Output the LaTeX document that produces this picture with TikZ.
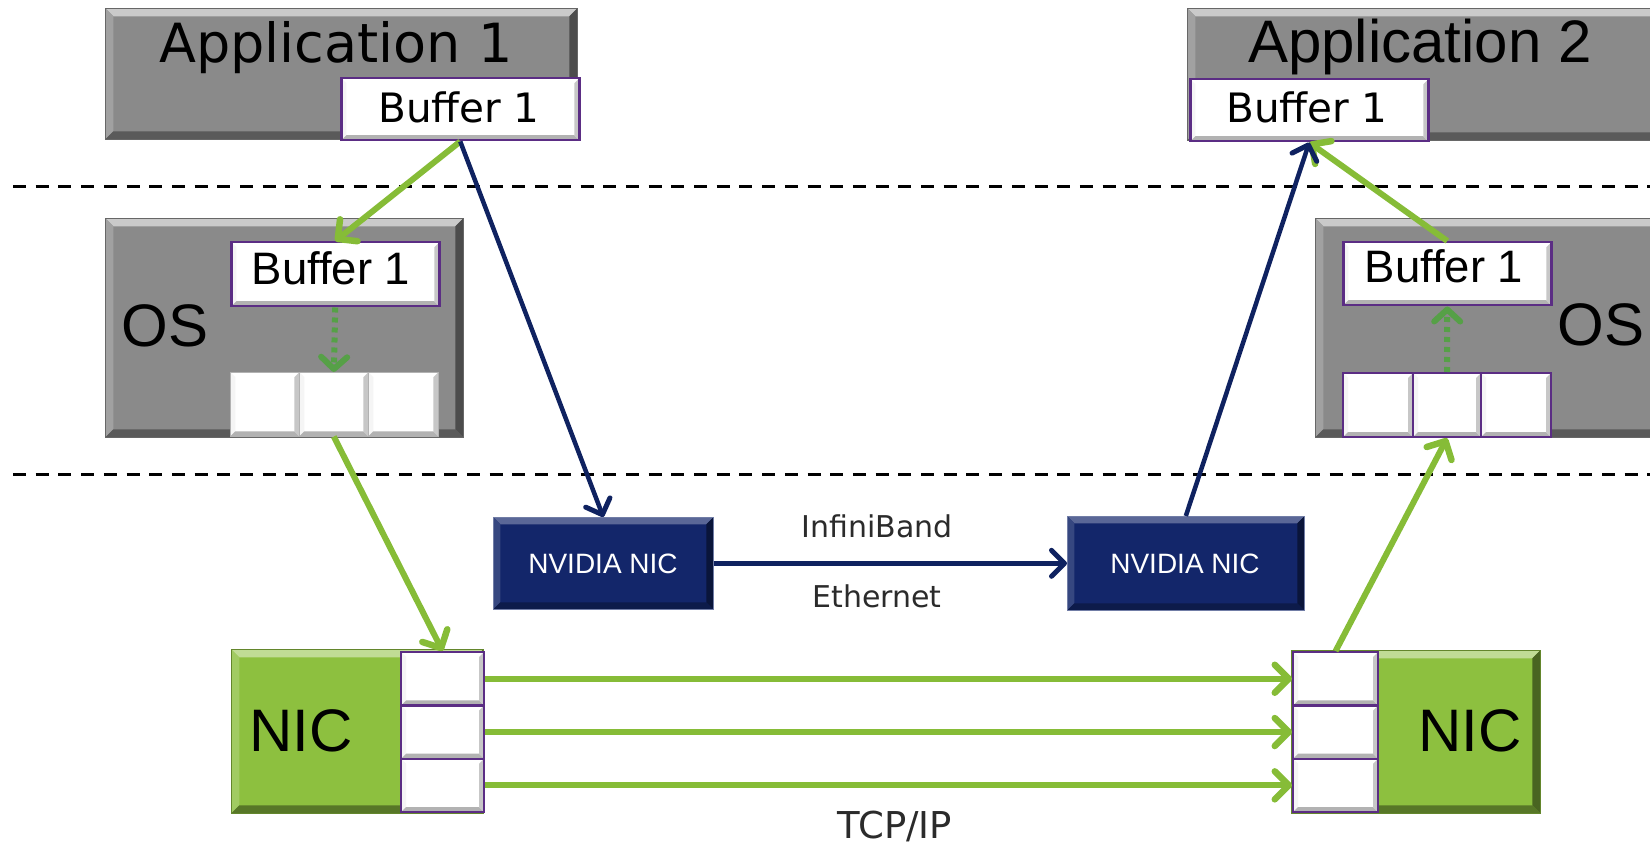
\documentclass[tikz,border=0pt]{standalone}
\usepackage{fontspec}
\setmainfont{Liberation Sans}
\newfontfamily\tah{DejaVu Sans}
\usetikzlibrary{arrows.meta}
\definecolor{boxgray}{HTML}{8A8A8A}
\definecolor{purp}{HTML}{5B2D84}
\definecolor{nicgreen}{HTML}{8DC03F}
\definecolor{argreen}{HTML}{86BC37}
\definecolor{dotgreen}{HTML}{56A047}
\definecolor{nvblue}{HTML}{13266A}
\definecolor{navyar}{HTML}{0F2260}
\definecolor{txtgray}{HTML}{2B2B2B}
\tikzset{
  bev/.style n args={5}{path picture={
    \path (path picture bounding box.north west) coordinate (bvA)
          (path picture bounding box.north east) coordinate (bvB)
          (path picture bounding box.south east) coordinate (bvC)
          (path picture bounding box.south west) coordinate (bvD);
    \fill[#2] (bvA) -- (bvB) -- ([shift={(-#1,-#1)}]bvB) -- ([shift={(#1,-#1)}]bvA) -- cycle;
    \fill[#3] (bvA) -- ([shift={(#1,-#1)}]bvA) -- ([shift={(#1,#1)}]bvD) -- (bvD) -- cycle;
    \fill[#4] (bvD) -- (bvC) -- ([shift={(-#1,#1)}]bvC) -- ([shift={(#1,#1)}]bvD) -- cycle;
    \fill[#5] (bvB) -- (bvC) -- ([shift={(-#1,#1)}]bvC) -- ([shift={(-#1,-#1)}]bvB) -- cycle;
  }},
  anybox/.style={rectangle, inner sep=0pt, anchor=north west},
  graybox/.style={anybox, fill=boxgray, draw=boxgray!75!black, line width=0.6pt,
    bev={8pt}{boxgray!45!white}{boxgray!80!white}{boxgray!65!black}{boxgray!55!black}},
  bufbox/.style={anybox, fill=white, draw=purp, line width=2.5pt,
    bev={5pt}{white}{white!96!black}{white!70!black}{white!78!black}},
  cellg/.style={anybox, fill=white, draw=white!70!black, line width=0.6pt,
    bev={5pt}{white}{white!96!black}{white!70!black}{white!78!black}},
  cellp/.style={anybox, fill=white, draw=purp, line width=2.2pt,
    bev={5pt}{white}{white!96!black}{white!70!black}{white!78!black}},
  nicbox/.style={anybox, fill=nicgreen, draw=nicgreen!70!black, line width=0.6pt,
    bev={8pt}{nicgreen!55!white}{nicgreen!82!white}{nicgreen!62!black}{nicgreen!52!black}},
  nvbox/.style={anybox, fill=nvblue, draw=nvblue!60!white, line width=0.6pt,
    bev={7pt}{nvblue!70!white}{nvblue!85!white}{nvblue!70!black}{nvblue!55!black}},
  lbl/.style={inner sep=0pt, anchor=base},
  garrow/.style={draw=argreen, line width=6pt,
    -{Straight Barb[length=14pt,width=28pt,line width=6.5pt,round]}},
  darrow/.style={draw=dotgreen, line width=6pt, dash pattern=on 5pt off 5pt,
    -{Straight Barb[length=12pt,width=26pt,line width=6pt,round]}},
  narrow/.style={draw=navyar, line width=4.5pt,
    -{Straight Barb[length=13pt,width=26pt,line width=5pt,round]}},
  sepline/.style={draw=black, line width=3pt, dash pattern=on 13pt off 9.7pt},
}
\begin{document}
\begin{tikzpicture}[x=1pt,y=-1pt]
\useasboundingbox (0,0) rectangle (1650,850);
\clip (0,0) rectangle (1650,850);

% separators
\coordinate (s1a) at (13,187); \coordinate (s1b) at (1660,187);
\coordinate (s2a) at (13,474); \coordinate (s2b) at (1660,474);
\draw[sepline] (s1a) -- (s1b);
\draw[sepline] (s2a) -- (s2b);

% applications
\node[graybox, minimum width=472pt, minimum height=131pt] (app1) at (105,8) {};
\node[bufbox, minimum width=238pt, minimum height=62pt] (app1buf) at (340,77) {};
\node[graybox, minimum width=480pt, minimum height=132pt] (app2) at (1187,8) {};
\node[bufbox, minimum width=238pt, minimum height=62pt] (app2buf) at (1189,78) {};
\node[lbl, font=\tah\fontsize{54}{58}\selectfont] (app1t) at (336,63) {Application 1};
\node[lbl, font=\fontsize{60}{64}\selectfont] (app2t) at (1420,63) {Application 2};
\node[lbl, font=\tah\fontsize{40.5}{44}\selectfont] (app1buft) at (459,123) {Buffer 1};
\node[lbl, font=\tah\fontsize{40.5}{44}\selectfont] (app2buft) at (1307,123) {Buffer 1};

% OS boxes
\node[graybox, minimum width=358pt, minimum height=219pt] (os1) at (105,218) {};
\node[bufbox, minimum width=208pt, minimum height=64pt] (os1buf) at (230,241) {};
\node[cellg, minimum width=69pt, minimum height=64pt] (os1c1) at (230,372) {};
\node[cellg, minimum width=69pt, minimum height=64pt] (os1c2) at (299,372) {};
\node[cellg, minimum width=70pt, minimum height=64pt] (os1c3) at (368,372) {};
\node[lbl, font=\fontsize{45.5}{49}\selectfont] (os1buft) at (331,285) {Buffer 1};
\node[lbl, font=\fontsize{60}{64}\selectfont] (os1t) at (165,347) {OS};

\node[graybox, minimum width=350pt, minimum height=219pt] (os2) at (1315,218) {};
\node[bufbox, minimum width=208pt, minimum height=63pt] (os2buf) at (1342,241) {};
\node[cellp, minimum width=70pt, minimum height=64pt] (os2c1) at (1342,372) {};
\node[cellp, minimum width=68pt, minimum height=64pt] (os2c2) at (1412,372) {};
\node[cellp, minimum width=70pt, minimum height=64pt] (os2c3) at (1480,372) {};
\node[lbl, font=\fontsize{45.5}{49}\selectfont] (os2buft) at (1444,283) {Buffer 1};
\node[lbl, font=\fontsize{60}{64}\selectfont] (os2t) at (1601,346) {OS};

% NVIDIA NICs
\node[nvbox, minimum width=220pt, minimum height=92pt] (nv1) at (493,517) {};
\node[nvbox, minimum width=237pt, minimum height=94pt] (nv2) at (1067,516) {};
\node[lbl, text=white, font=\fontsize{28}{32}\selectfont] (nv1t) at (603,573) {NVIDIA NIC};
\node[lbl, text=white, font=\fontsize{28}{32}\selectfont] (nv2t) at (1185,573) {NVIDIA NIC};
\node[lbl, text=txtgray, font=\tah\fontsize{30}{34}\selectfont] (ibt) at (877,537) {InfiniBand};
\node[lbl, text=txtgray, font=\tah\fontsize{30}{34}\selectfont] (etht) at (877,607) {Ethernet};

% NICs
\node[nicbox, minimum width=252pt, minimum height=164pt] (nic1) at (231,649) {};
\node[cellp, minimum width=83pt, minimum height=53.3pt] (nic1c1) at (400,651) {};
\node[cellp, minimum width=83pt, minimum height=53.3pt] (nic1c2) at (400,704.3) {};
\node[cellp, minimum width=83pt, minimum height=53.3pt] (nic1c3) at (400,757.6) {};
\node[lbl, font=\fontsize{60}{64}\selectfont] (nic1t) at (301,751) {NIC};

\node[nicbox, minimum width=249pt, minimum height=163pt] (nic2) at (1291,650) {};
\node[cellp, minimum width=85pt, minimum height=53.3pt] (nic2c1) at (1292,651) {};
\node[cellp, minimum width=85pt, minimum height=53.3pt] (nic2c2) at (1292,704.3) {};
\node[cellp, minimum width=85pt, minimum height=53.3pt] (nic2c3) at (1292,757.6) {};
\node[lbl, font=\fontsize{60}{64}\selectfont] (nic2t) at (1470,751) {NIC};
\node[lbl, text=txtgray, font=\tah\fontsize{37}{40}\selectfont] (tcpt) at (895,838) {TCP/IP};

% connectors
\draw[garrow] (app1buf.south) -- (os1buf.north);
\draw[narrow] (app1buf.south) -- (nv1.north);
\draw[darrow] (os1buf.south) -- (os1c2.north);
\draw[garrow] (os1c2.south) -- (nic1c1.north);
\draw[garrow] (nic1c1.east) -- (nic2c1.west);
\draw[garrow] (nic1c2.east) -- (nic2c2.west);
\draw[garrow] (nic1c3.east) -- (nic2c3.west);
\draw[narrow] (nv1.east) -- (nv2.west);
\draw[garrow] (nic2c1.north) -- (os2c2.south);
\draw[darrow] (os2c2.north) -- (os2buf.south);
\draw[garrow] (os2buf.north) -- (app2buf.south);
\draw[narrow] (nv2.north) -- (app2buf.south);
\end{tikzpicture}
\end{document}
